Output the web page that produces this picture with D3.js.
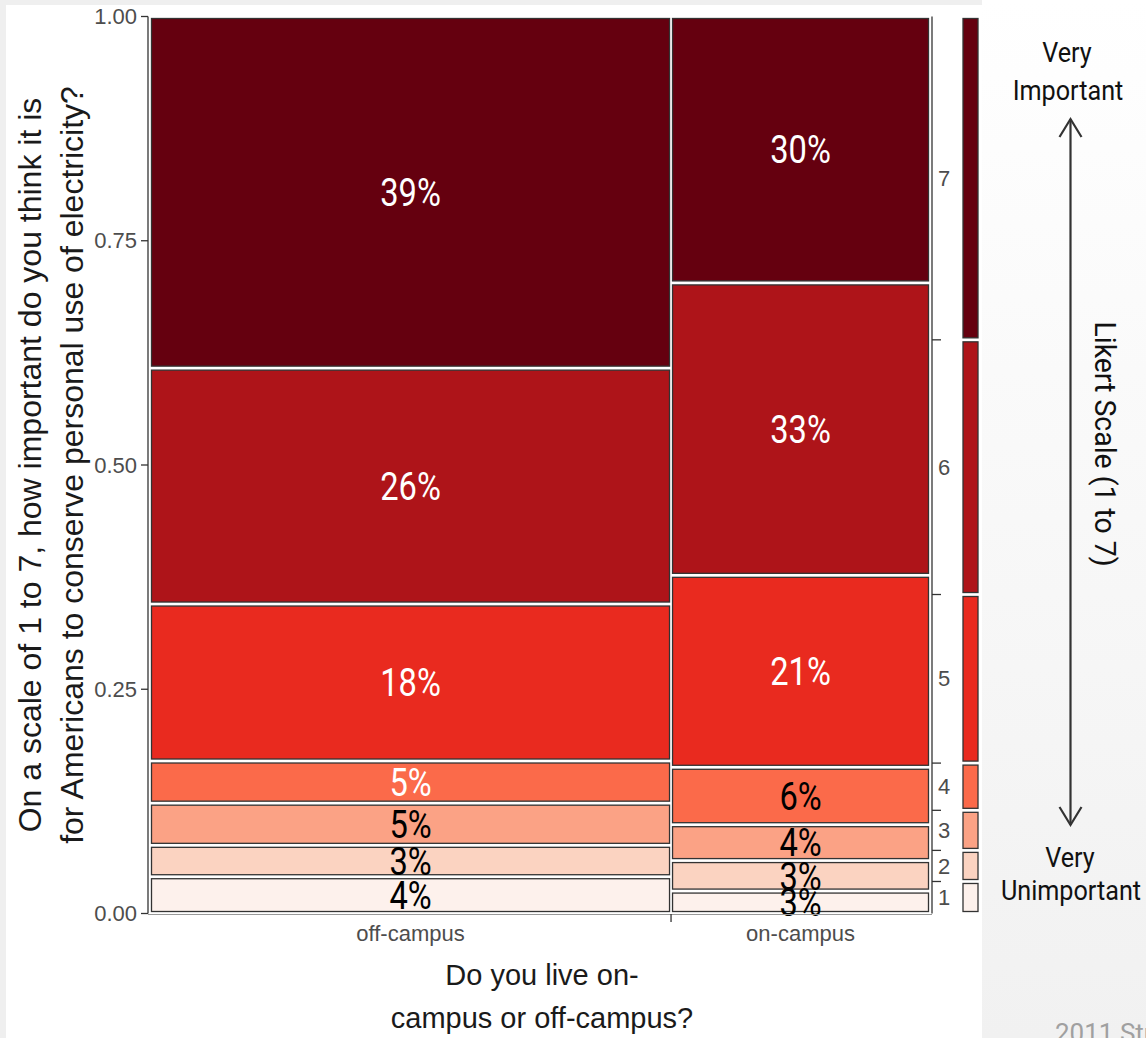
<!DOCTYPE html>
<html><head><meta charset="utf-8">
<script src="https://cdn.jsdelivr.net/npm/d3@7"></script>
<style>html,body{margin:0;padding:0;background:#fff;overflow:hidden}</style>
</head><body><svg id="c" width="1146" height="1038"></svg>
<script>
// ---------------- data ----------------
const groups = ["off-campus", "on-campus"];
const groupShare = [0.668, 0.332];            // column widths (share of respondents)
const levels = ["1", "2", "3", "4", "5", "6", "7"];
const offCampus = [0.041, 0.035, 0.047, 0.047, 0.175, 0.263, 0.392];
const onCampus  = [0.025, 0.034, 0.040, 0.064, 0.214, 0.326, 0.297];
const offLabels = ["4%", "3%", "5%", "5%", "18%", "26%", "39%"];
const onLabels  = ["3%", "3%", "4%", "6%", "21%", "33%", "30%"];
const yTickValues = [0, 0.25, 0.5, 0.75, 1];
const yTickLabels = ["0.00", "0.25", "0.50", "0.75", "1.00"];
const yTitleLines = ["On a scale of 1 to 7, how important do you think it is",
                     "for Americans to conserve personal use of electricity?"];
const xTitleLines = ["Do you live on-", "campus or off-campus?"];

// ---------------- style ----------------
const colors = ["#fdf1ec", "#fbd3c1", "#fba285", "#fb6a4a", "#e92a1f", "#ae1419", "#65000f"];
const whiteFrom = [3, 4];   // per group: first level index with white label text
const condensed = "Roboto, 'Noto Sans', sans-serif";
const plain = "'Liberation Sans', Arial, sans-serif";

const svg = d3.select("#c");

// background (slide)
const defs = svg.append("defs");
const g1 = defs.append("linearGradient").attr("id", "bg").attr("x1", 0).attr("y1", 0).attr("x2", 0).attr("y2", 1);
g1.append("stop").attr("offset", "0%").attr("stop-color", "#ffffff");
g1.append("stop").attr("offset", "100%").attr("stop-color", "#f1f1f1");
svg.append("rect").attr("width", 1146).attr("height", 1038).attr("fill", "url(#bg)");
svg.append("rect").attr("x", 0).attr("y", 0).attr("width", 982).attr("height", 1038).attr("fill", "#efefef");
svg.append("rect").attr("x", 6).attr("y", 5).attr("width", 976).attr("height", 1033).attr("fill", "#ffffff");

// scales
const x = d3.scaleLinear().domain([0, 1]).range([150, 930]);
const y = d3.scaleLinear().domain([0, 1]).range([913.5, 16.5]);
const insetX = 1.5, insetY = 2;

const series = [offCampus, onCampus];
const labels = [offLabels, onLabels];

let cumX = 0;
groups.forEach((g, gi) => {
  const x0 = x(cumX), x1 = x(cumX + groupShare[gi]);
  let cumY = 0;
  series[gi].forEach((v, li) => {
    const y0 = y(cumY), y1 = y(cumY + v);
    svg.append("rect")
      .attr("x", x0 + insetX).attr("y", y1 + insetY)
      .attr("width", x1 - x0 - 2 * insetX).attr("height", Math.max(0, y0 - y1 - 2 * insetY))
      .attr("fill", colors[li]).attr("stroke", "#333").attr("stroke-width", 1.3);
    cumY += v;
  });
  cumY = 0;
  series[gi].forEach((v, li) => {
    const yc = y(cumY + v / 2);
    svg.append("text")
      .attr("transform", `translate(${(x0 + x1) / 2},${yc}) scale(0.86,1)`)
      .attr("text-anchor", "middle").attr("dy", "0.36em")
      .attr("font-family", condensed).attr("font-size", 38)
      .attr("fill", li >= whiteFrom[gi] ? "#ffffff" : "#000000")
      .text(labels[gi][li]);
    cumY += v;
  });
  cumX += groupShare[gi];
});

// left axis
const axisColor = "#333", tickText = "#4d4d4d";
svg.append("line").attr("x1", 148).attr("x2", 148).attr("y1", y(0)).attr("y2", y(1))
  .attr("stroke", axisColor).attr("stroke-width", 1.3);
yTickValues.forEach((t, i) => {
  svg.append("line").attr("x1", 141).attr("x2", 148).attr("y1", y(t)).attr("y2", y(t))
    .attr("stroke", axisColor).attr("stroke-width", 1.3);
  svg.append("text").attr("x", 137).attr("y", y(t)).attr("dy", "0.35em")
    .attr("text-anchor", "end").attr("font-family", plain).attr("font-size", 22)
    .attr("fill", tickText).text(yTickLabels[i]);
});

// bottom axis
svg.append("line").attr("x1", 148).attr("x2", 932).attr("y1", 914.5).attr("y2", 914.5)
  .attr("stroke", "#999").attr("stroke-width", 1);
cumX = 0;
groups.forEach((g, gi) => {
  const x0 = x(cumX), x1 = x(cumX + groupShare[gi]);
  if (gi > 0) {
    svg.append("line").attr("x1", x0).attr("x2", x0).attr("y1", 914).attr("y2", 922)
      .attr("stroke", axisColor).attr("stroke-width", 1.3);
  }
  svg.append("text").attr("x", (x0 + x1) / 2).attr("y", 941)
    .attr("text-anchor", "middle").attr("font-family", plain).attr("font-size", 22)
    .attr("fill", tickText).text(g);
  cumX += groupShare[gi];
});

// marginal distribution (right axis + legend bar)
const marginal = levels.map((_, li) => d3.sum(series, (s, gi) => s[li] * groupShare[gi]));
svg.append("line").attr("x1", 932).attr("x2", 932).attr("y1", y(0)).attr("y2", y(1))
  .attr("stroke", axisColor).attr("stroke-width", 1.3);
let cm = 0;
marginal.forEach((m, li) => {
  const y0 = y(cm), y1 = y(cm + m);
  if (li > 0) {
    svg.append("line").attr("x1", 932).attr("x2", 941).attr("y1", y0).attr("y2", y0)
      .attr("stroke", axisColor).attr("stroke-width", 1.3);
  }
  svg.append("text").attr("x", 938).attr("y", (y0 + y1) / 2).attr("dy", "0.35em")
    .attr("font-family", plain).attr("font-size", 22).attr("fill", tickText).text(levels[li]);
  svg.append("rect").attr("x", 963).attr("y", y1 + insetY)
    .attr("width", 15).attr("height", Math.max(0, y0 - y1 - 2 * insetY))
    .attr("fill", colors[li]).attr("stroke", "#333").attr("stroke-width", 1.3);
  cm += m;
});

// axis titles
yTitleLines.forEach((t, i) => {
  svg.append("text").attr("transform", `translate(${41 + i * 42},${y(0.5)}) rotate(-90)`)
    .attr("text-anchor", "middle").attr("font-family", plain).attr("font-size", 32)
    .attr("fill", "#1a1a1a").text(t);
});
xTitleLines.forEach((t, i) => {
  svg.append("text").attr("x", 542).attr("y", 985 + i * 43)
    .attr("text-anchor", "middle").attr("font-family", plain).attr("font-size", 29)
    .attr("fill", "#1a1a1a").text(t);
});

// right annotation
function cText(txt, cx, cy) {
  svg.append("text").attr("transform", `translate(${cx},${cy}) scale(0.9,1)`)
    .attr("text-anchor", "middle").attr("dy", "0.36em")
    .attr("font-family", condensed).attr("font-size", 28).attr("fill", "#111").text(txt);
}
cText("Very", 1067, 52);
cText("Important", 1068, 90);
cText("Very", 1070, 857);
cText("Unimportant", 1071, 890);
const ax = 1070.5;
svg.append("line").attr("x1", ax).attr("x2", ax).attr("y1", 119).attr("y2", 825)
  .attr("stroke", "#333").attr("stroke-width", 2.2);
svg.append("path").attr("d", `M${ax - 11},${137} L${ax},${119} L${ax + 11},${137}`)
  .attr("fill", "none").attr("stroke", "#333").attr("stroke-width", 2.2);
svg.append("path").attr("d", `M${ax - 11},${807} L${ax},${825} L${ax + 11},${807}`)
  .attr("fill", "none").attr("stroke", "#333").attr("stroke-width", 2.2);
svg.append("text").attr("transform", `translate(1095,444) rotate(90) scale(0.98,1)`)
  .attr("text-anchor", "middle").attr("font-family", condensed).attr("font-size", 29)
  .attr("fill", "#111").text("Likert Scale (1 to 7)");

// footer fragment
svg.append("text").attr("x", 1055).attr("y", 1042).attr("font-family", condensed)
  .attr("font-size", 26).attr("fill", "#a0a0a0").text("2011 Study");
</script></body></html>
